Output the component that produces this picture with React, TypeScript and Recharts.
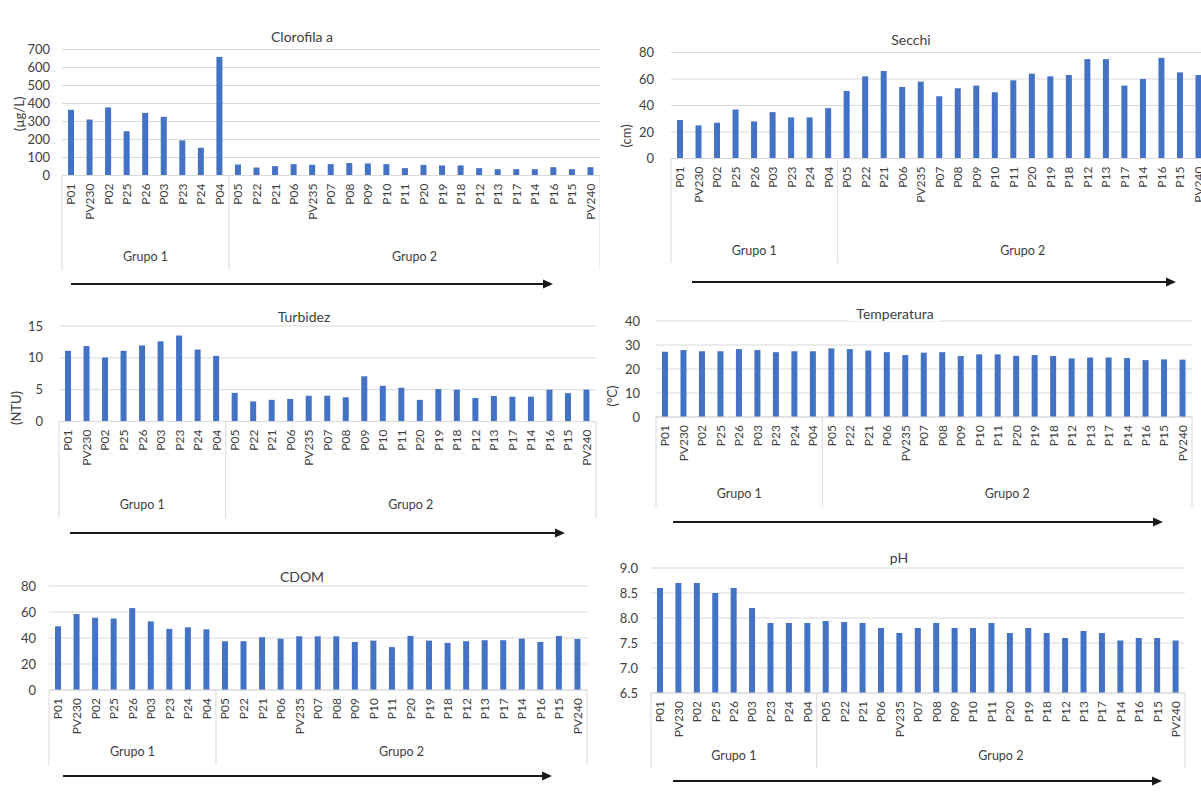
import React from "react";
import { BarChart, Bar, XAxis, YAxis, CartesianGrid } from "recharts";

// sampling sites, in the order they are plotted
const SITES = [
  "P01", "PV230", "P02", "P25", "P26", "P03", "P23", "P24", "P04",
  "P05", "P22", "P21", "P06", "PV235", "P07", "P08", "P09", "P10", "P11",
  "P20", "P19", "P18", "P12", "P13", "P17", "P14", "P16", "P15", "PV240",
];

const GROUPS = [
  { name: "Grupo 1", start: 0, end: 8 },
  { name: "Grupo 2", start: 9, end: 28 },
];

const CLOROFILA = [
  365, 311, 378, 246, 348, 326, 195, 154, 659,
  61, 44, 52, 63, 59, 63, 69, 67, 63, 41, 59, 56, 56, 41, 35, 35, 35, 46, 35, 46,
];
const SECCHI = [
  29, 25, 27, 37, 28, 35, 31, 31, 38,
  51, 62, 66, 54, 58, 47, 53, 55, 50, 59, 64, 62, 63, 75, 75, 55, 60, 76, 65, 63,
];
const TURBIDEZ = [
  11.1, 11.85, 10.05, 11.1, 11.95, 12.6, 13.5, 11.3, 10.3,
  4.5, 3.15, 3.4, 3.55, 4.05, 4.05, 3.8, 7.1, 5.6, 5.3, 3.4, 5.1, 5.0, 3.7, 4.0, 3.9, 3.9, 5.0, 4.45, 5.0,
];
const TEMPERATURA = [
  27.2, 27.9, 27.4, 27.4, 28.3, 27.9, 27.0, 27.4, 27.4,
  28.6, 28.3, 27.7, 27.0, 25.8, 26.8, 27.0, 25.4, 26.1, 26.1, 25.5, 25.8, 25.4, 24.4, 24.8, 24.8, 24.6, 23.7, 24.0, 23.9,
];
const CDOM = [
  49, 58.4, 55.6, 55, 63, 52.8, 47, 48.2, 46.7,
  37.5, 37.5, 40.6, 39.5, 41.3, 41.3, 41.3, 37, 38, 33, 41.6, 38, 36.2, 37.5, 38.3, 38.3, 39.5, 37, 41.6, 39.3,
];
const PH = [
  8.6, 8.7, 8.7, 8.5, 8.6, 8.2, 7.9, 7.9, 7.9,
  7.94, 7.92, 7.9, 7.8, 7.7, 7.8, 7.9, 7.8, 7.8, 7.9, 7.7, 7.8, 7.7, 7.6, 7.74, 7.7, 7.55, 7.6, 7.6, 7.55,
];

const CLOROFILA_TICKS = [0, 100, 200, 300, 400, 500, 600, 700];
const SECCHI_TICKS = [0, 20, 40, 60, 80];
const TURBIDEZ_TICKS = [0, 5, 10, 15];
const TEMPERATURA_TICKS = [0, 10, 20, 30, 40];
const CDOM_TICKS = [0, 20, 40, 60, 80];
const PH_TICKS = [6.5, 7.0, 7.5, 8.0, 8.5, 9.0];

const FONT = "Lato, 'Open Sans', sans-serif";
const TEXT = "#404040";
const GRID = "#d9d9d9";
const BAR = "#4472c4";

type Box = { x: number; y: number; w: number; h: number };
type Plot = { left: number; right: number; top: number; bottom: number };
type Panel = {
  title: string;
  titleX: number;
  titleY: number;
  unit?: string;
  unitX?: number;
  unitY?: number;
  values: number[];
  ticks: number[];
  decimals: number;
  box: Box;
  plot: Plot;
  tickGap: number;
  grupoY: number;
  lineEnd: number;
  arrow: { x1: number; x2: number; y: number };
};

const PANELS: Panel[] = [
  {
    title: "Clorofila a", titleX: 302, titleY: 37,
    unit: "(µg/L)", unitX: 19, unitY: 114,
    values: CLOROFILA, ticks: CLOROFILA_TICKS, decimals: 0,
    box: { x: 0, y: 20, w: 600, h: 280 },
    plot: { left: 62, right: 600, top: 49.5, bottom: 175.5 },
    tickGap: 12, grupoY: 257, lineEnd: 270,
    arrow: { x1: 71, x2: 553, y: 284 },
  },
  {
    title: "Secchi", titleX: 911, titleY: 40,
    unit: "(cm)", unitX: 626, unitY: 136,
    values: SECCHI, ticks: SECCHI_TICKS, decimals: 0,
    box: { x: 600, y: 20, w: 615, h: 280 },
    plot: { left: 671, right: 1208, top: 52.5, bottom: 158.5 },
    tickGap: 17, grupoY: 251, lineEnd: 263,
    arrow: { x1: 692, x2: 1176, y: 282 },
  },
  {
    title: "Turbidez", titleX: 304, titleY: 317,
    unit: "(NTU)", unitX: 16, unitY: 408,
    values: TURBIDEZ, ticks: TURBIDEZ_TICKS, decimals: 0,
    box: { x: 0, y: 300, w: 600, h: 245 },
    plot: { left: 59, right: 596, top: 326, bottom: 421.5 },
    tickGap: 16, grupoY: 505, lineEnd: 518,
    arrow: { x1: 70, x2: 565, y: 533 },
  },
  {
    title: "Temperatura", titleX: 895, titleY: 314,
    unit: "(°C)", unitX: 612, unitY: 396,
    values: TEMPERATURA, ticks: TEMPERATURA_TICKS, decimals: 0,
    box: { x: 600, y: 300, w: 601, h: 245 },
    plot: { left: 656, right: 1192, top: 321, bottom: 417 },
    tickGap: 16, grupoY: 494, lineEnd: 507,
    arrow: { x1: 673, x2: 1163, y: 522 },
  },
  {
    title: "CDOM", titleX: 302, titleY: 577,
    values: CDOM, ticks: CDOM_TICKS, decimals: 0,
    box: { x: 0, y: 545, w: 600, h: 265 },
    plot: { left: 49, right: 587, top: 586, bottom: 690 },
    tickGap: 13, grupoY: 752, lineEnd: 765,
    arrow: { x1: 63, x2: 552, y: 776 },
  },
  {
    title: "pH", titleX: 899, titleY: 558,
    values: PH, ticks: PH_TICKS, decimals: 1,
    box: { x: 600, y: 545, w: 601, h: 265 },
    plot: { left: 651, right: 1185, top: 568, bottom: 693 },
    tickGap: 13, grupoY: 756, lineEnd: 768,
    arrow: { x1: 673, x2: 1162, y: 781 },
  },
];

// rotated site label plus the two-level group frame below the axis
function SiteTick(props: any) {
  const { x, y, payload, index, panel } = props;
  const p: Panel = panel;
  const half =
    payload && payload.offset ? payload.offset : (p.plot.right - p.plot.left) / SITES.length / 2;
  const axisY = p.plot.bottom - p.box.y;
  const lineEnd = p.lineEnd - p.box.y;
  const grupoY = p.grupoY - p.box.y;
  const parts: React.ReactNode[] = [];

  parts.push(
    <text
      key="lbl"
      transform={`translate(${x},${y}) rotate(-90)`}
      textAnchor="end"
      dy="0.35em"
      fontSize={12}
      fontFamily={FONT}
      fill={TEXT}
    >
      {payload.value}
    </text>
  );

  GROUPS.forEach((g, gi) => {
    if (index === g.start) {
      parts.push(
        <line key={`s${gi}`} x1={x - half} x2={x - half} y1={axisY} y2={lineEnd} stroke={GRID} />
      );
    }
    if (gi === GROUPS.length - 1 && index === g.end) {
      parts.push(
        <line key={`e${gi}`} x1={x + half} x2={x + half} y1={axisY} y2={lineEnd} stroke={GRID} />
      );
    }
    const mid = (g.start + g.end) / 2;
    if (index === Math.floor(mid)) {
      parts.push(
        <text
          key={`g${gi}`}
          x={x + (mid - Math.floor(mid)) * 2 * half}
          y={grupoY}
          textAnchor="middle"
          dy="0.35em"
          fontSize={12.5}
          fontFamily={FONT}
          fill={TEXT}
        >
          {g.name}
        </text>
      );
    }
  });

  return <g>{parts}</g>;
}

function PanelChart({ panel }: { panel: Panel }) {
  const { box, plot } = panel;
  const rows = SITES.map((site, i) => ({ site, value: panel.values[i] }));
  const lo = panel.ticks[0];
  const hi = panel.ticks[panel.ticks.length - 1];
  return (
    <div style={{ position: "absolute", left: box.x, top: box.y, width: box.w, height: box.h }}>
      <BarChart
        width={box.w}
        height={box.h}
        data={rows}
        margin={{ top: plot.top - box.y, right: box.x + box.w - plot.right, bottom: 0, left: 0 }}
      >
        <CartesianGrid vertical={false} stroke={GRID} />
        <XAxis
          dataKey="site"
          interval={0}
          height={box.y + box.h - plot.bottom}
          axisLine={{ stroke: GRID }}
          tickLine={false}
          tick={(p: any) => <SiteTick {...p} panel={panel} />}
        />
        <YAxis
          width={plot.left - box.x}
          domain={[lo, hi]}
          ticks={panel.ticks}
          interval={0}
          axisLine={false}
          tickLine={false}
          tickMargin={panel.tickGap - 6}
          tickFormatter={(v: number) => v.toFixed(panel.decimals)}
          tick={{ fill: TEXT, fontSize: 13, fontFamily: FONT }}
        />
        <Bar dataKey="value" fill={BAR} barSize={6} isAnimationActive={false} />
      </BarChart>
    </div>
  );
}

function Annotations() {
  return (
    <svg
      width={1201}
      height={810}
      style={{ position: "absolute", left: 0, top: 0, pointerEvents: "none" }}
    >
      {PANELS.map((p) => {
        const tw = p.title.length * 7.4 + 10;
        const a = p.arrow;
        return (
          <g key={p.title}>
            <rect x={p.titleX - tw / 2} y={p.titleY - 8} width={tw} height={15} fill="#fff" />
            <text
              x={p.titleX}
              y={p.titleY}
              textAnchor="middle"
              dy="0.35em"
              fontSize={14}
              fontFamily={FONT}
              fill={TEXT}
            >
              {p.title}
            </text>
            {p.unit && (
              <text
                transform={`translate(${p.unitX},${p.unitY}) rotate(-90)`}
                textAnchor="middle"
                dy="0.35em"
                fontSize={13}
                fontFamily={FONT}
                fill={TEXT}
              >
                {p.unit}
              </text>
            )}
            <line x1={a.x1} x2={a.x2 - 8} y1={a.y} y2={a.y} stroke="#1a1a1a" strokeWidth={2} />
            <polygon
              points={`${a.x2},${a.y} ${a.x2 - 10},${a.y - 4.5} ${a.x2 - 10},${a.y + 4.5}`}
              fill="#1a1a1a"
            />
          </g>
        );
      })}
    </svg>
  );
}

export default function App() {
  return (
    <div
      style={{
        position: "absolute",
        left: 0,
        top: 0,
        width: 1201,
        height: 810,
        overflow: "hidden",
        background: "#fff",
        fontFamily: FONT,
      }}
    >
      {PANELS.map((p) => (
        <PanelChart key={p.title} panel={p} />
      ))}
      <Annotations />
    </div>
  );
}
